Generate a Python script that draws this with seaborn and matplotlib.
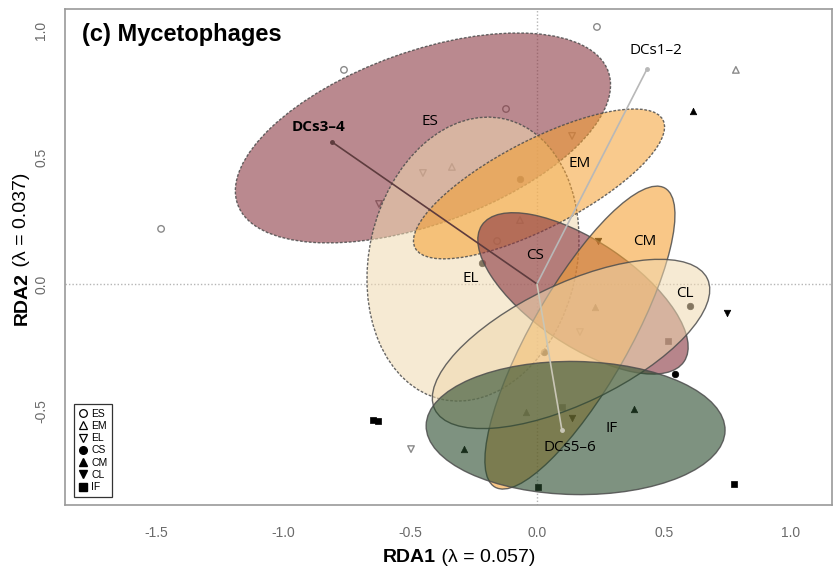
import numpy as np
import pandas as pd
import matplotlib
matplotlib.use("Agg")
import matplotlib.pyplot as plt
from matplotlib.patches import Ellipse
from matplotlib.lines import Line2D
import seaborn as sns

# ---------------- data ----------------
groups = ["ES", "EM", "EL", "CS", "CM", "CL", "IF"]

# site scores (RDA1, RDA2) per group
es_x = [0.236, -0.760, -1.480, -0.122, -0.157]
es_y = [1.012, 0.843, 0.217, 0.689, 0.169]
em_x = [0.783, -0.335, -0.067]
em_y = [0.843, 0.461, 0.252]
el_x = [-0.622, -0.449, 0.138, 0.169, -0.496]
el_y = [0.315, 0.437, 0.583, -0.189, -0.650]
cs_x = [-0.217, -0.067, 0.602, 0.028, 0.543]
cs_y = [0.083, 0.413, -0.087, -0.268, -0.354]
cm_x = [0.614, 0.228, -0.043, 0.382, -0.287]
cm_y = [0.681, -0.091, -0.504, -0.492, -0.650]
cl_x = [0.748, 0.240, 0.138]
cl_y = [-0.114, 0.169, -0.528]
if_x = [-0.646, -0.626, 0.004, 0.776, 0.516, 0.098]
if_y = [-0.535, -0.539, -0.799, -0.787, -0.224, -0.484]

# dispersion ellipses per group
ell_cx = [-0.449, 0.008, -0.252, 0.181, 0.169, 0.134, 0.152]
ell_cy = [0.575, 0.394, 0.098, -0.037, -0.211, -0.236, -0.567]
ell_w = [1.55, 1.098, 1.131, 0.96, 1.354, 1.19, 1.177]
ell_h = [0.680, 0.346, 0.817, 0.41, 0.386, 0.47, 0.524]
ell_ang = [19.7, 27.3, 77.3, -34.0, 60.4, 25.6, -1.0]

# group label positions
glab_x = [-0.421, 0.169, -0.260, -0.008, 0.425, 0.583, 0.295]
glab_y = [0.638, 0.476, 0.020, 0.114, 0.169, -0.039, -0.567]

# biplot vectors
vec_names = ["DCs1\u20132", "DCs3\u20134", "DCs5\u20136"]
vec_x = [0.433, -0.807, 0.098]
vec_y = [0.846, 0.559, -0.575]
vec_lab_x = [0.469, -0.862, 0.130]
vec_lab_y = [0.921, 0.618, -0.642]

x_ticks = [-1.5, -1.0, -0.5, 0.0, 0.5, 1.0]
y_ticks = [-0.5, 0.0, 0.5, 1.0]

# ---------------- styling ----------------
sns.set_style("white")
plt.rcParams["font.family"] = ["Liberation Sans", "DejaVu Sans"]
plt.rcParams["text.color"] = "black"

W, H = 838, 571
fig = plt.figure(figsize=(W / 100, H / 100), dpi=100)
ax = fig.add_axes([65 / W, (H - 505) / H, (832 - 65) / W, (505 - 9) / H])

px = 254.0
ax.set_xlim((65 - 537) / px, (832 - 537) / px)
ax.set_ylim((284 - 505) / px, (284 - 9) / px)

pts = {
    "ES": (es_x, es_y), "EM": (em_x, em_y), "EL": (el_x, el_y),
    "CS": (cs_x, cs_y), "CM": (cm_x, cm_y), "CL": (cl_x, cl_y),
    "IF": (if_x, if_y),
}
rows = []
for g in groups:
    xs, ys = pts[g]
    for a, b in zip(xs, ys):
        rows.append({"group": g, "RDA1": a, "RDA2": b})
df = pd.DataFrame(rows)

markers = {"ES": "o", "EM": "^", "EL": "v", "CS": "o", "CM": "^", "CL": "v", "IF": "s"}
open_g = {"ES", "EM", "EL"}

for g in groups:
    sub = df[df["group"] == g]
    if g in open_g:
        sns.scatterplot(data=sub, x="RDA1", y="RDA2", marker=markers[g], s=22,
                        facecolors="none", edgecolor="#8a8a8a", linewidth=1.0,
                        ax=ax, legend=False, zorder=2)
    else:
        sns.scatterplot(data=sub, x="RDA1", y="RDA2", marker=markers[g], s=22,
                        color="black", edgecolor="black", linewidth=0.5,
                        ax=ax, legend=False, zorder=2)

# reference lines
ax.axhline(0, color="#b5b5b5", ls=(0, (1, 1.5)), lw=1, zorder=1)
ax.axvline(0, color="#b5b5b5", ls=(0, (1, 1.5)), lw=1, zorder=1)

fills = {"ES": ("#8c3a44", 0.6), "CS": ("#8c3a44", 0.62),
         "EM": ("#f5a030", 0.55), "CM": ("#f5a030", 0.58),
         "EL": ("#f0d9b0", 0.55), "CL": ("#f0d9b0", 0.55),
         "IF": ("#284a2c", 0.6)}
order = ["ES", "EL", "EM", "CS", "CM", "CL", "IF"]
for g in order:
    i = groups.index(g)
    fc, al = fills[g]
    e = Ellipse((ell_cx[i], ell_cy[i]), ell_w[i], ell_h[i], angle=ell_ang[i],
                facecolor=matplotlib.colors.to_rgba(fc, al),
                edgecolor=(0.3, 0.3, 0.3, 0.85),
                linestyle=(0, (2, 1.2)) if g.startswith("E") else "-",
                linewidth=1.0, zorder=3)
    ax.add_patch(e)

# vectors
vec_cols = ["#b8b8b8", "#5e3c3e", "#c9c6b6"]
for i in range(3):
    ax.plot([0, vec_x[i]], [0, vec_y[i]], color=vec_cols[i], lw=1.2, zorder=4)
    ax.plot([vec_x[i]], [vec_y[i]], marker="o", ms=2.5, color=vec_cols[i], zorder=4)
    ax.text(vec_lab_x[i], vec_lab_y[i], vec_names[i], ha="center", va="center",
            fontsize=11, family=["Open Sans", "DejaVu Sans"],
            fontweight="bold" if i == 1 else "normal", zorder=5)

for i, g in enumerate(groups):
    ax.text(glab_x[i], glab_y[i], g, ha="center", va="center", fontsize=11,
            family=["Open Sans", "DejaVu Sans"], zorder=5)

# axes styling
for s in ax.spines.values():
    s.set_color("#9a9a9a")
    s.set_linewidth(1.2)
ax.set_xticks(x_ticks)
ax.set_xticklabels([f"{v:.1f}" for v in x_ticks])
ax.set_yticks(y_ticks)
ax.set_yticklabels([f"{v:.1f}" for v in y_ticks])
ax.tick_params(direction="out", length=8, width=1, color="#8a8a8a",
               labelcolor="#6a6a6a", labelsize=10, pad=7)
ax.tick_params(axis="y", labelrotation=90, pad=4)
for lab in ax.get_yticklabels():
    lab.set_va("center")
ax.set_xlabel("")
ax.set_ylabel("")

# title
fig.text(82 / W, (H - 35) / H, "(c) Mycetophages", fontsize=17, fontweight="bold",
         ha="left", va="center", color="black")

# legend
handles = []
for g in groups:
    if g in open_g:
        h = Line2D([], [], marker=markers[g], ls="none", mfc="none", mec="black",
                   mew=0.9, ms=5.5)
    else:
        h = Line2D([], [], marker=markers[g], ls="none", mfc="black", mec="black",
                   ms=5.5)
    handles.append(h)
leg = ax.legend(handles, groups, loc="lower left",
                bbox_to_anchor=((74 - 65) / 767, (505 - 497) / 496),
                frameon=True, fancybox=False, fontsize=7.5, handlelength=0.9,
                handletextpad=0.3, labelspacing=0.22, borderpad=0.45,
                borderaxespad=0)
leg.get_frame().set_edgecolor("black")
leg.get_frame().set_linewidth(0.9)
leg.set_zorder(10)
for t in leg.get_texts():
    t.set_color("black")

# axis labels (bold part + regular part)
fig.canvas.draw()
r = fig.canvas.get_renderer()


def two_part(bold, rest, cx, cy, rot):
    t1 = fig.text(0, 0, bold, fontsize=14, fontweight="bold", rotation=rot, color="black")
    t2 = fig.text(0, 0, rest, fontsize=14, rotation=rot, color="black")
    b1 = t1.get_window_extent(r)
    b2 = t2.get_window_extent(r)
    if rot == 0:
        tot = b1.width + b2.width
        x0 = cx - tot / 2
        t1.set_position((x0 / W, cy / H)); t1.set_ha("left"); t1.set_va("center")
        t2.set_position(((x0 + b1.width) / W, cy / H)); t2.set_ha("left"); t2.set_va("center")
    else:
        tot = b1.height + b2.height
        y0 = cy - tot / 2
        t1.set_position((cx / W, y0 / H)); t1.set_ha("center"); t1.set_va("bottom")
        t2.set_position((cx / W, (y0 + b1.height) / H)); t2.set_ha("center"); t2.set_va("bottom")


two_part("RDA1", " (\u03bb = 0.057)", 459, H - 558, 0)
two_part("RDA2", " (\u03bb = 0.037)", 22, H - 249, 90)

fig.savefig("out.png", dpi=100)
